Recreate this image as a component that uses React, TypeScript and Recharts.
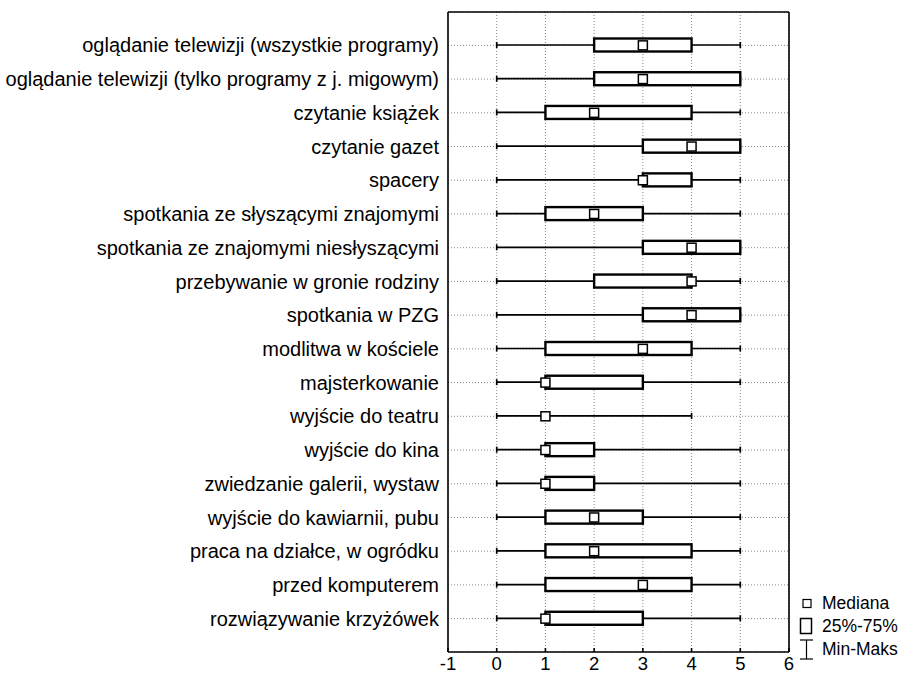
import React from 'react';
import { ComposedChart, Bar, Scatter, XAxis, YAxis, CartesianGrid } from 'recharts';

const activities = [
  'oglądanie telewizji (wszystkie programy)',
  'oglądanie telewizji (tylko programy z j. migowym)',
  'czytanie książek',
  'czytanie gazet',
  'spacery',
  'spotkania ze słyszącymi znajomymi',
  'spotkania ze znajomymi niesłyszącymi',
  'przebywanie w gronie rodziny',
  'spotkania w PZG',
  'modlitwa w kościele',
  'majsterkowanie',
  'wyjście do teatru',
  'wyjście do kina',
  'zwiedzanie galerii, wystaw',
  'wyjście do kawiarnii, pubu',
  'praca na działce, w ogródku',
  'przed komputerem',
  'rozwiązywanie krzyżówek',
];

const minVals = [0, 0, 0, 0, 0, 0, 0, 0, 0, 0, 0, 0, 0, 0, 0, 0, 0, 0];
const q1Vals = [2, 2, 1, 3, 3, 1, 3, 2, 3, 1, 1, 1, 1, 1, 1, 1, 1, 1];
const medianVals = [3, 3, 2, 4, 3, 2, 4, 4, 4, 3, 1, 1, 1, 1, 2, 2, 3, 1];
const q3Vals = [4, 5, 4, 5, 4, 3, 5, 4, 5, 4, 3, 1, 2, 2, 3, 4, 4, 3];
const maxVals = [5, 5, 5, 5, 5, 5, 5, 5, 5, 5, 5, 4, 5, 5, 5, 5, 5, 5];

const xTicks = [-1, 0, 1, 2, 3, 4, 5, 6];

const data = activities.map((name, i) => ({
  name,
  whisker: [minVals[i], maxVals[i]],
  box: [q1Vals[i], q3Vals[i]],
  med: medianVals[i],
}));

const FONT = '"Liberation Sans", Arial, sans-serif';
const BOX_H = 13;
const frameLine = { stroke: '#000', strokeWidth: 1.6 };

const WhiskerShape = (props: any) => {
  const { x, y, width, height } = props;
  const cy = y + height / 2;
  return (
    <g stroke="#000" strokeWidth={1.7}>
      <line x1={x} y1={cy} x2={x + width} y2={cy} />
      <line x1={x} y1={cy - 3} x2={x} y2={cy + 3} />
      <line x1={x + width} y1={cy - 3} x2={x + width} y2={cy + 3} />
    </g>
  );
};

const BoxShape = (props: any) => {
  const { x, y, width, height } = props;
  return <rect x={x} y={y} width={width} height={height} fill="#fff" stroke="#000" strokeWidth={2.4} />;
};

const MedianShape = (props: any) => {
  const { cx, cy } = props;
  return <rect x={cx - 4.5} y={cy - 4.5} width={9} height={9} fill="#fff" stroke="#000" strokeWidth={1.5} />;
};

const Legend = () => (
  <div style={{ position: 'absolute', left: 798, top: 592, fontFamily: FONT, fontSize: 17.5, color: '#000', lineHeight: '23px' }}>
    <div style={{ display: 'flex', alignItems: 'center' }}>
      <svg width={24} height={23}><rect x={5} y={7.5} width={8} height={8} fill="#fff" stroke="#000" strokeWidth={1.2} /></svg>
      <span>Mediana</span>
    </div>
    <div style={{ display: 'flex', alignItems: 'center' }}>
      <svg width={24} height={23}><rect x={2.5} y={3.5} width={11} height={15} fill="#fff" stroke="#000" strokeWidth={1.5} /></svg>
      <span>25%-75%</span>
    </div>
    <div style={{ display: 'flex', alignItems: 'center' }}>
      <svg width={24} height={23}>
        <g stroke="#000" strokeWidth={1.2}>
          <line x1={2} y1={2} x2={15} y2={2} />
          <line x1={8.5} y1={2} x2={8.5} y2={21} />
          <line x1={2} y1={21} x2={15} y2={21} />
        </g>
      </svg>
      <span>Min-Maks</span>
    </div>
  </div>
);

export default function App() {
  return (
    <div style={{ position: 'relative', width: 909, height: 683, background: '#fff' }}>
      <style>{'body{margin:0}'}</style>
      <ComposedChart
        width={909}
        height={683}
        data={data}
        layout="vertical"
        margin={{ top: 12, right: 120, bottom: 1, left: 8 }}
        barSize={BOX_H}
        barGap={-BOX_H}
      >
        <CartesianGrid stroke="#888" strokeDasharray="1 2" strokeWidth={1} />
        <XAxis
          type="number"
          domain={[-1, 6]}
          ticks={xTicks}
          allowDataOverflow
          height={30}
          axisLine={frameLine}
          tickSize={-4}
          tickMargin={9}
          tickLine={frameLine}
          tick={{ fill: '#000', fontSize: 18.5, fontFamily: FONT }}
        />
        <XAxis
          xAxisId="top"
          orientation="top"
          type="number"
          domain={[-1, 6]}
          ticks={xTicks}
          mirror
          axisLine={frameLine}
          tick={false}
          tickSize={4}
          tickLine={frameLine}
        />
        <YAxis
          type="category"
          dataKey="name"
          width={440}
          padding={{ top: 16.5, bottom: 16.5 }}
          axisLine={frameLine}
          tickLine={false}
          tickSize={4}
          tickMargin={5}
          interval={0}
          tick={{ fill: '#000', fontSize: 20, fontFamily: FONT }}
        />
        <YAxis
          yAxisId="right"
          orientation="right"
          type="category"
          dataKey="name"
          padding={{ top: 16.5, bottom: 16.5 }}
          mirror
          axisLine={frameLine}
          tick={false}
          tickSize={4}
          interval={0}
          tickLine={frameLine}
        />
        <Bar dataKey="whisker" isAnimationActive={false} shape={<WhiskerShape />} />
        <Bar dataKey="box" isAnimationActive={false} shape={<BoxShape />} />
        <Scatter dataKey="med" isAnimationActive={false} shape={<MedianShape />} />
      </ComposedChart>
      <Legend />
    </div>
  );
}
